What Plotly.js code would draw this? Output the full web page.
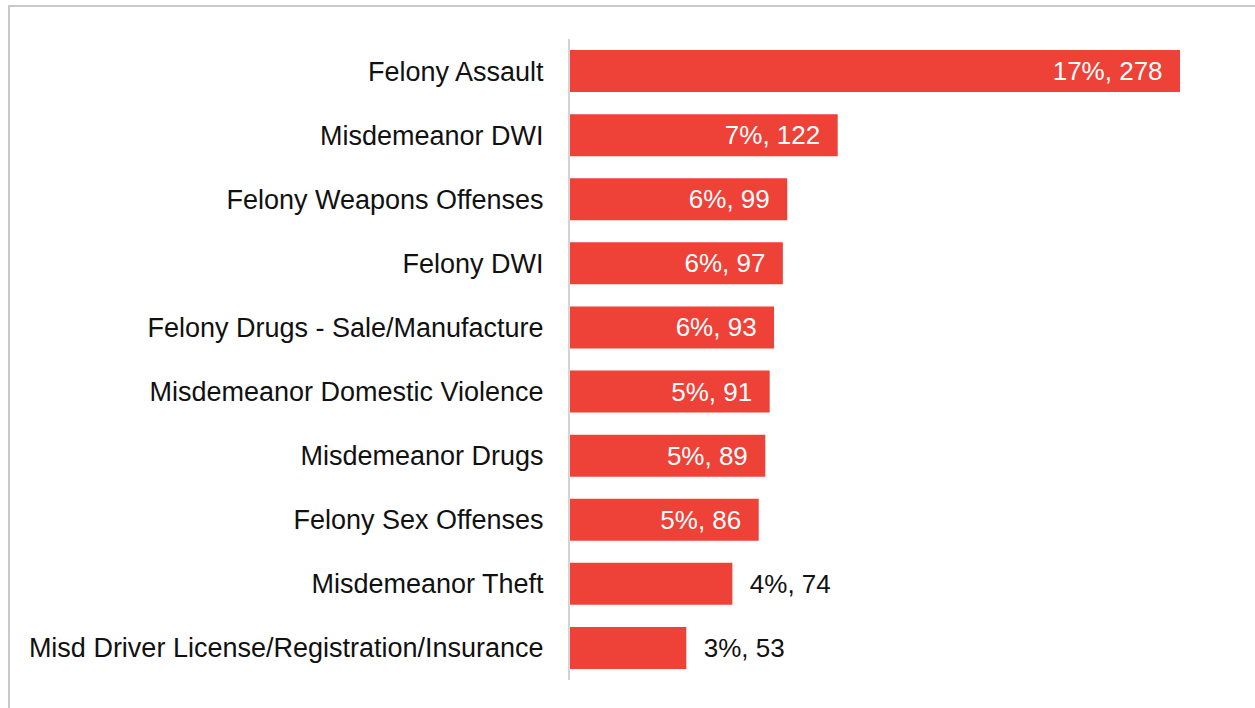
<!DOCTYPE html>
<html>
<head>
<meta charset="utf-8">
<script src="https://cdn.plot.ly/plotly-3.0.1.min.js"></script>
<style>
  html, body { margin: 0; padding: 0; background: #fff; }
  #wrap { position: relative; width: 1255px; height: 708px; overflow: hidden; }
  #chart { width: 1255px; height: 708px; }
  #frame { position: absolute; left: 8px; top: 5px; width: 2000px; height: 2000px;
           border-left: 2px solid #c9c9c9; border-top: 2px solid #c9c9c9; pointer-events: none; }
</style>
</head>
<body>
<div id="wrap">
  <div id="chart"></div>
  <div id="frame"></div>
</div>
<script>
const categories = [
  "Felony Assault",
  "Misdemeanor DWI",
  "Felony Weapons Offenses",
  "Felony DWI",
  "Felony Drugs - Sale/Manufacture",
  "Misdemeanor Domestic Violence",
  "Misdemeanor Drugs",
  "Felony Sex Offenses",
  "Misdemeanor Theft",
  "Misd Driver License/Registration/Insurance"
];
const counts = [278, 122, 99, 97, 93, 91, 89, 86, 74, 53];
const percents = [17, 7, 6, 6, 6, 5, 5, 5, 4, 3];
const labelPositions = ["inside","inside","inside","inside","inside","inside","inside","inside","outside","outside"];

const NB = "\u00a0";
const texts = counts.map((c, i) => {
  const s = percents[i] + "%, " + c;
  return labelPositions[i] === "inside" ? s + NB + NB : NB + NB + s;
});

const FONT = "Liberation Sans, Arial, sans-serif";
const FS = 27;
const LFS = 26;

const trace = {
  type: "bar",
  orientation: "h",
  y: categories,
  x: counts,
  text: texts,
  textposition: labelPositions,
  insidetextanchor: "end",
  constraintext: "none",
  cliponaxis: false,
  insidetextfont: { family: FONT, size: LFS, color: "#ffffff" },
  outsidetextfont: { family: FONT, size: LFS, color: "#111111" },
  marker: { color: "#EE4137", line: { width: 0 } },
  hoverinfo: "none"
};

const layout = {
  width: 1255,
  height: 708,
  margin: { l: 570, r: 75, t: 39, b: 28, pad: 0 },
  paper_bgcolor: "#ffffff",
  plot_bgcolor: "#ffffff",
  bargap: 0.345,
  showlegend: false,
  font: { family: FONT, size: FS, color: "#111111" },
  xaxis: {
    range: [0, 278],
    visible: false,
    showgrid: false,
    zeroline: false
  },
  yaxis: {
    autorange: "reversed",
    showline: true,
    linecolor: "#d4d4d4",
    linewidth: 2,
    ticks: "",
    ticklabelstandoff: 19,
    showgrid: false,
    zeroline: false,
    tickfont: { family: FONT, size: FS, color: "#111111" }
  }
};

Plotly.newPlot("chart", [trace], layout, { displayModeBar: false, staticPlot: true });
</script>
</body>
</html>
